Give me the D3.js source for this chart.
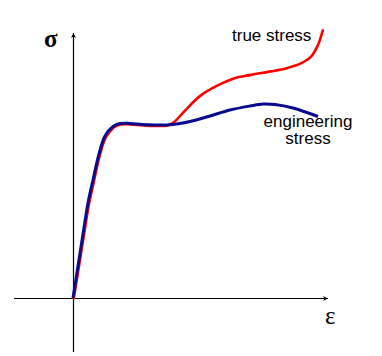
<!DOCTYPE html>
<html>
<head>
<meta charset="utf-8">
<script src="https://cdn.jsdelivr.net/npm/d3@7"></script>
<style>
  html, body { margin: 0; padding: 0; background: #ffffff; }
  svg { display: block; }
</style>
</head>
<body>
<svg id="chart" width="382" height="356"></svg>
<script>
// ---- data (strain, stress in arbitrary units) ----
const engStrain = [0, 0.005, 0.010, 0.015, 0.020, 0.026, 0.032, 0.040, 0.047, 0.057, 0.069, 0.082, 0.094, 0.107, 0.117, 0.137, 0.157, 0.177, 0.190, 0.202, 0.220, 0.245];
const engStress = [0, 64, 128, 190, 236, 288, 324, 343, 349, 349, 347, 346, 346, 349, 353, 364, 376, 384, 388, 387, 380, 363];

const trueStrain = [0, 0.005, 0.010, 0.015, 0.020, 0.026, 0.032, 0.040, 0.047, 0.057, 0.069, 0.082, 0.094, 0.100, 0.110, 0.127, 0.144, 0.160, 0.177, 0.197, 0.212, 0.227, 0.237, 0.244, 0.249];
const trueStress = [0, 62, 125, 187, 233, 286, 322, 342, 348, 348, 346, 345, 346, 352, 373, 406, 426, 440, 447, 454, 460, 470, 483, 506, 536];

const labels = { sigma: "σ", eps: "ε", trueLabel: "true stress", engLabel: ["engineering", "stress"] };

// ---- scales ----
const x = d3.scaleLinear().domain([-0.059, 0.255]).range([14, 328]);
const y = d3.scaleLinear().domain([-108, 530]).range([352, 33]);

const svg = d3.select("#chart");

// arrow marker
svg.append("defs").append("marker")
  .attr("id", "arrow")
  .attr("viewBox", "0 0 10 10")
  .attr("refX", 10).attr("refY", 5)
  .attr("markerWidth", 7).attr("markerHeight", 5)
  .attr("markerUnits", "userSpaceOnUse")
  .attr("orient", "auto")
  .append("path").attr("d", "M0,0 L10,5 L0,10 L3,5 Z").attr("fill", "#000");

// axes
svg.append("line")
  .attr("x1", x(-0.059)).attr("y1", y(0) + 0.5)
  .attr("x2", x(0.255)).attr("y2", y(0) + 0.5)
  .attr("stroke", "#000").attr("stroke-width", 1.2)
  .attr("marker-end", "url(#arrow)");
svg.append("line")
  .attr("x1", x(0) + 0.5).attr("y1", y(-108))
  .attr("x2", x(0) + 0.5).attr("y2", y(530))
  .attr("stroke", "#000").attr("stroke-width", 1.2)
  .attr("marker-end", "url(#arrow)");

const line = d3.line().curve(d3.curveCatmullRom.alpha(0.5)).x(d => x(d[0])).y(d => y(d[1]));

svg.append("path")
  .datum(d3.zip(trueStrain, trueStress))
  .attr("d", line)
  .attr("transform", "translate(0.8,0.4)")
  .attr("fill", "none").attr("stroke", "#ff0000").attr("stroke-width", 2.6)
  .attr("stroke-linejoin", "round").attr("stroke-linecap", "round");

svg.append("path")
  .datum(d3.zip(engStrain, engStress))
  .attr("d", line)
  .attr("fill", "none").attr("stroke", "#0a0a8f").attr("stroke-width", 3)
  .attr("stroke-linejoin", "round").attr("stroke-linecap", "butt");

// labels
svg.append("text").text(labels.sigma)
  .attr("x", 44).attr("y", 47)
  .attr("font-family", "'Liberation Serif', serif").attr("font-size", 25).attr("font-weight", "bold")
  .attr("fill", "#000");
svg.append("text").text(labels.eps)
  .attr("x", 325).attr("y", 324)
  .attr("font-family", "'Liberation Serif', serif").attr("font-size", 25)
  .attr("fill", "#000");

svg.append("text").text(labels.trueLabel)
  .attr("x", 232).attr("y", 41)
  .attr("font-family", "'Liberation Sans', Arial, sans-serif").attr("font-size", 17)
  .attr("fill", "#000");

labels.engLabel.forEach((t, i) => {
  svg.append("text").text(t)
    .attr("x", 308).attr("y", 127 + i * 17)
    .attr("text-anchor", "middle")
    .attr("font-family", "'Liberation Sans', Arial, sans-serif").attr("font-size", 17)
    .attr("fill", "#000");
});
</script>
</body>
</html>
